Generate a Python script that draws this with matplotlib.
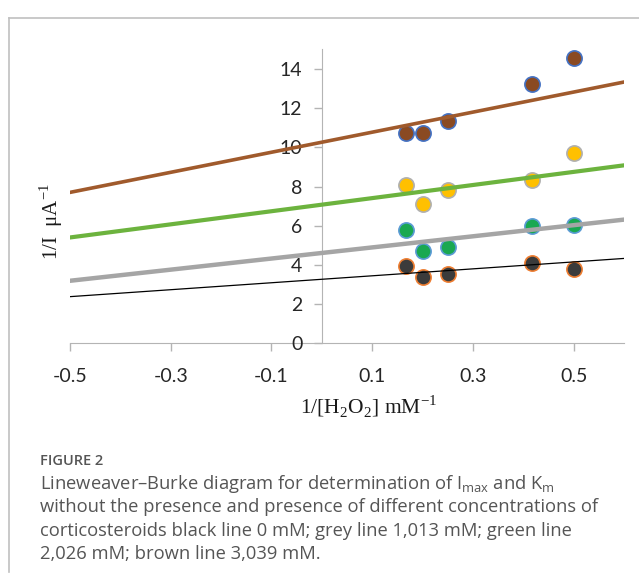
import matplotlib
matplotlib.use("Agg")
import matplotlib.pyplot as plt
import numpy as np
from matplotlib.lines import Line2D

# 1/[H2O2] values (mM^-1)
x_pts = [1 / 6, 1 / 5, 1 / 4, 1 / 2.4, 1 / 2]

# 1/I values
y_black = [3.95, 3.37, 3.56, 4.12, 3.77]
y_grey = [5.76, 4.72, 4.92, 5.98, 6.03]      # green dots
y_green = [8.07, 7.12, 7.82, 8.35, 9.72]     # yellow dots
y_brown = [10.72, 10.72, 11.36, 13.23, 14.55]

# trendline ends (x = -0.5 and x = 0.6)
line_x = [-0.5, 0.6]
line_black = [2.38, 4.33]
line_grey = [3.19, 6.31]
line_green = [5.40, 9.08]
line_brown = [7.70, 13.33]

x_ticks = [-0.5, -0.3, -0.1, 0.1, 0.3, 0.5]
y_ticks = [0, 2, 4, 6, 8, 10, 12, 14]

plt.rcParams['mathtext.fontset'] = 'custom'
plt.rcParams['mathtext.rm'] = 'Liberation Serif'
plt.rcParams['mathtext.sf'] = 'Open Sans'

fig = plt.figure(figsize=(6.39, 5.74), dpi=100)
ax = fig.add_axes([70 / 639, 1 - 343.3 / 574, (624 - 70) / 639, (343.3 - 49.3) / 574])

axis_col = '#b4b4b4'

# markers first, trendlines over them
ax.scatter(x_pts, y_black, s=120, c='#3b3b3b', edgecolors='#ed7d31', linewidths=1.2, zorder=3)
ax.scatter(x_pts, y_grey, s=120, c='#1aa851', edgecolors='#5b9bd5', linewidths=1.2, zorder=3)
ax.scatter(x_pts, y_green, s=120, c='#ffc000', edgecolors='#b0b0b0', linewidths=1.2, zorder=3)
ax.scatter(x_pts, y_brown, s=120, c='#8a4a22', edgecolors='#4472c4', linewidths=1.2, zorder=3)

ax.plot(line_x, line_black, color='black', lw=0.9, zorder=4)
ax.plot(line_x, line_grey, color='#a5a5a5', lw=3.2, zorder=4)
ax.plot(line_x, line_green, color='#6cb33e', lw=3.0, zorder=4)
ax.plot(line_x, line_brown, color='#a05a2c', lw=2.6, zorder=4)

ax.set_xlim(-0.5, 0.6)
ax.set_ylim(0, 15)

for s in ['top', 'right']:
    ax.spines[s].set_visible(False)
ax.spines['left'].set_position(('data', 0))
ax.spines['bottom'].set_position(('data', 0))
ax.spines['left'].set_color(axis_col)
ax.spines['bottom'].set_color(axis_col)
ax.spines['left'].set_zorder(1)
ax.spines['bottom'].set_zorder(1)

ax.set_xticks(x_ticks)
ax.set_xticklabels(['%.1f' % v for v in x_ticks])
ax.set_yticks(y_ticks)
ax.tick_params(axis='both', direction='out', color=axis_col, length=6, width=1,
               labelsize=14, labelcolor='#262626')
ax.tick_params(axis='y', pad=8)
ax.tick_params(axis='x', pad=12)
for lab in ax.get_xticklabels() + ax.get_yticklabels():
    lab.set_family('Lato')

fig.text(51 / 639, 1 - 222 / 574, r'1/I  μA$^{\mathrm{-1}}$', rotation=90,
         ha='center', va='center', fontsize=15, family='Liberation Serif', color='#1a1a1a')
fig.text(369 / 639, 1 - 406 / 574, r'1/[H$_{\mathrm{2}}$O$_{\mathrm{2}}$] mM$^{\mathrm{-1}}$',
         ha='center', va='center', fontsize=15.5, family='Liberation Serif', color='#1a1a1a')

# panel frame
fig.add_artist(Line2D([9 / 639, 1], [1 - 18 / 574] * 2, color='#c0c0c0', lw=1.2))
fig.add_artist(Line2D([9 / 639] * 2, [1 - 18 / 574, 0.003], color='#c0c0c0', lw=1.2))

cap_col = '#555555'
fig.text(40 / 639, 1 - 461 / 574, 'FIGURE 2', fontsize=10.5, family='Open Sans',
         weight='semibold', color=cap_col, va='center')
caption = [
    r'Lineweaver–Burke diagram for determination of I$_{\mathsf{max}}$ and K$_{\mathsf{m}}$',
    'without the presence and presence of different concentrations of',
    'corticosteroids black line 0 mM; grey line 1,013 mM; green line',
    '2,026 mM; brown line 3,039 mM.',
]
for i, line in enumerate(caption):
    fig.text(40 / 639, 1 - (484 + 23.3 * i) / 574, line, fontsize=13.2, family='Open Sans',
             color=cap_col, va='center')

fig.savefig('out.png', dpi=100)
